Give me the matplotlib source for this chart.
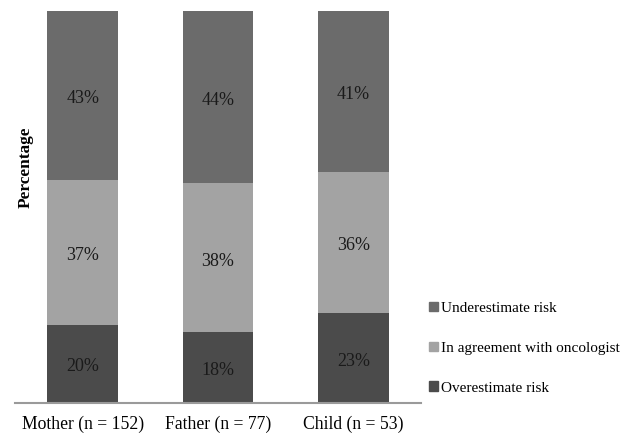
import matplotlib.pyplot as plt
from matplotlib.patches import Patch

plt.rcParams["font.family"] = ["Liberation Serif", "DejaVu Serif"]

groups = ["Mother (n = 152)", "Father (n = 77)", "Child (n = 53)"]
overestimate = [20, 18, 23]
agreement = [37, 38, 36]
underestimate = [43, 44, 41]

series = [
    ("Overestimate risk", overestimate, "#4b4b4b"),
    ("In agreement with oncologist", agreement, "#a3a3a3"),
    ("Underestimate risk", underestimate, "#6b6b6b"),
]

fig = plt.figure(figsize=(6.33, 4.33), dpi=100)
ax = fig.add_axes([0.0237, 0.0693, 0.6414, 0.9053])

x = list(range(len(groups)))
bottom = [0] * len(groups)
handles = []
for label, values, color in series:
    bars = ax.bar(x, values, 0.52, bottom=bottom, color=color, label=label)
    for rect, v, b in zip(bars, values, bottom):
        ax.text(rect.get_x() + rect.get_width() / 2, b + v / 2 - 0.8, f"{v}%",
                ha="center", va="center", fontsize=13, color="#1a1a1a")
    bottom = [b + v for b, v in zip(bottom, values)]
    handles.append(Patch(color=color, label=label))

ax.set_xlim(-0.5, 2.5)
ax.set_ylim(0, 100)
ax.set_xticks(x)
ax.set_xticklabels(groups, fontsize=12.7)
ax.tick_params(axis="x", length=0, pad=9)
ax.set_yticks([])
for side in ["left", "right", "top"]:
    ax.spines[side].set_visible(False)
ax.spines["bottom"].set_color("#9a9a9a")
ax.spines["bottom"].set_linewidth(1.5)

fig.text(0.041, 0.614, "Percentage", rotation=90, ha="center", va="center",
         fontsize=12.4, fontweight="bold")

fig.legend(handles=handles[::-1], loc="center left",
           bbox_to_anchor=(0.678, 0.196), frameon=False, fontsize=11,
           handlelength=0.6, handleheight=0.6, handletextpad=0.2,
           labelspacing=1.75, borderpad=0, borderaxespad=0)

fig.savefig("out.png", dpi=100)
